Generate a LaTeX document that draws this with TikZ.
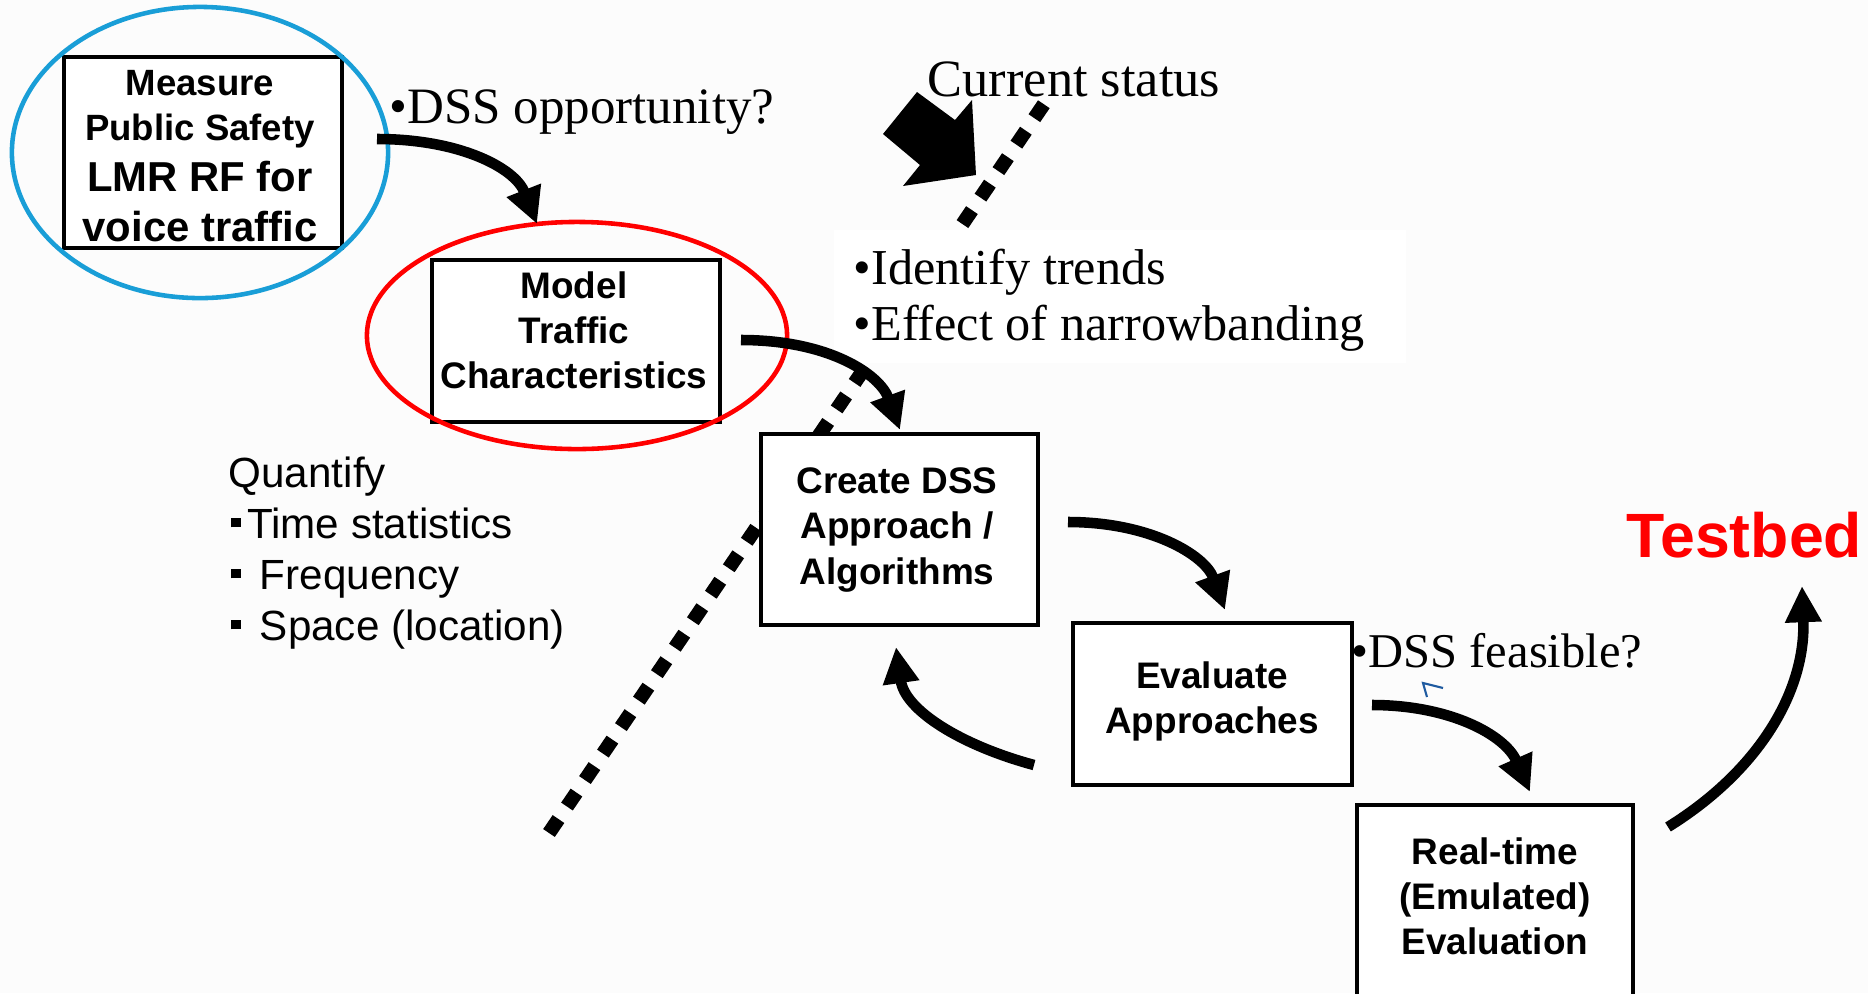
\documentclass[tikz,border=0pt]{standalone}
\usepackage{fontspec}
\setmainfont{Liberation Serif}
\setsansfont{Liberation Sans}
\usetikzlibrary{arrows.meta,shapes.geometric}
\definecolor{bg}{RGB}{252,252,252}
\definecolor{ellblue}{RGB}{25,158,215}
\definecolor{markblue}{RGB}{30,90,160}
\newcommand{\sqb}{\raisebox{3pt}{\rule{2.8pt}{2.8pt}}}
\begin{document}
\begin{tikzpicture}[x=0.01cm,y=-0.01cm,
  stepbox/.style={draw,line width=1.15pt,fill=white,inner sep=0pt},
  boxtext/.style={font=\sffamily\bfseries\fontsize{10.5}{12.8}\selectfont,align=center,inner sep=0pt},
  linetext/.style={anchor=base,inner sep=0pt},
  flow/.style={line width=3pt,-{Triangle[width=9.8pt,length=10.3pt]}},
  serif/.style={anchor=base west,inner sep=0pt,font=\fontsize{14.3}{17}\selectfont},
  listtext/.style={anchor=base west,inner sep=0pt,font=\sffamily\fontsize{12}{14}\selectfont},
  ring/.style={ellipse,line width=1.3pt,inner sep=0pt},
]
\clip (0,0) rectangle (1868,993);
\fill[bg] (0,0) rectangle (1868,993);

% current status dotted line
\coordinate (cs1) at (549,833);
\coordinate (cs2) at (1044,104);
\draw[line width=4pt,dash pattern=on 4.8pt off 4.3pt] (cs1) -- (cs2);

% white background of the bullet text
\node[fill=white,inner sep=0pt,minimum width=5.72cm,minimum height=1.33cm] (trendbox) at (1120,296.5) {};

% current status block arrow
\fill (917,92) -- (955,120) -- (972,100) -- (976,175) -- (903,186) -- (920,165) -- (883,134) -- cycle;
\node[serif,font=\fontsize{14.9}{17}\selectfont] (cur) at (927,96) {Current status};

% boxes
\node[stepbox,minimum width=2.78cm,minimum height=1.91cm] (measure) at (203,152.5) {};
\node[stepbox,minimum width=2.88cm,minimum height=1.62cm] (model) at (576,341) {};
\node[stepbox,minimum width=2.77cm,minimum height=1.91cm] (create) at (899.5,529.5) {};
\node[stepbox,minimum width=2.79cm,minimum height=1.62cm] (evaluate) at (1212.5,704) {};
\node[stepbox,minimum width=2.76cm,minimum height=2.00cm] (realtime) at (1495,905) {};

% ellipses
\node[ring,draw=ellblue,minimum width=3.76cm,minimum height=2.91cm] (blueell) at (200,152.5) {};
\node[ring,draw=red,minimum width=4.20cm,minimum height=2.27cm] (redell) at (577,335.5) {};

% box texts
\node[linetext,font=\sffamily\bfseries\fontsize{10.4}{12}\selectfont] (m1) at (200,95) {Measure};
\node[linetext,font=\sffamily\bfseries\fontsize{10.4}{12}\selectfont] (m2) at (200,140) {Public Safety};
\node[linetext,font=\sffamily\bfseries\fontsize{11.9}{14}\selectfont] (m3) at (200,191) {LMR RF for};
\node[linetext,font=\sffamily\bfseries\fontsize{11.9}{14}\selectfont] (m4) at (200,241) {voice traffic};
\node[boxtext] (modeltext) at (574,330) {Model\\Traffic\\Characteristics};
\node[boxtext] (createtext) at (897,530) {Create DSS\\Approach /\\Algorithms};
\node[boxtext] (evaltext) at (1212,701) {Evaluate\\Approaches};
\node[boxtext] (realtext) at (1495,896) {Real-time\\(Emulated)\\Evaluation};

% arrows
\coordinate (a1s) at (377,139);  \coordinate (a1e) at (537,224);
\draw[flow] (a1s) .. controls (460,139) and (515,168) .. (a1e);
\coordinate (a2s) at (741,340);  \coordinate (a2e) at (900,430);
\draw[flow] (a2s) .. controls (830,340) and (880,375) .. (a2e);
\coordinate (a3s) at (1068,522); \coordinate (a3e) at (1225,610);
\draw[flow] (a3s) .. controls (1150,522) and (1205,555) .. (a3e);
\coordinate (a4s) at (1034,765); \coordinate (a4e) at (896,647);
\draw[flow] (a4s) .. controls (960,745) and (905,710) .. (a4e);
\coordinate (a5s) at (1372,705); \coordinate (a5e) at (1530,792);
\draw[flow] (a5s) .. controls (1450,705) and (1505,735) .. (a5e);
\coordinate (a6s) at (1668,827); \coordinate (a6e) at (1802,586);
\draw[flow] (a6s) .. controls (1760,770) and (1806,690) .. (a6e);

% serif labels
\node[serif,font=\fontsize{14.5}{17}\selectfont] (opp) at (389,123) {\textbullet DSS opportunity?};
\node[serif] (t1) at (853,284) {\textbullet Identify trends};
\node[serif] (t2) at (853,340) {\textbullet Effect of narrowbanding};
\node[serif,font=\fontsize{13.8}{17}\selectfont] (feas) at (1351,667) {\textbullet DSS feasible?};

% small blue mark
\draw[markblue,line width=0.6pt] (1427,697) -- (1423,683) -- (1443,688);

% quantify list
\node[listtext] (q1) at (228,487) {Quantify};
\node[listtext] (q2) at (230,538) {\sqb\hspace{1.9pt}Time statistics};
\node[listtext] (q3) at (230,589) {\sqb\hspace{5.5pt}Frequency};
\node[listtext] (q4) at (230,640) {\sqb\hspace{5.5pt}Space (location)};

% testbed
\node[anchor=base west,inner sep=0pt,font=\sffamily\bfseries\fontsize{17.8}{20}\selectfont,text=red] (testbed) at (1626,557) {Testbed};
\end{tikzpicture}
\end{document}
